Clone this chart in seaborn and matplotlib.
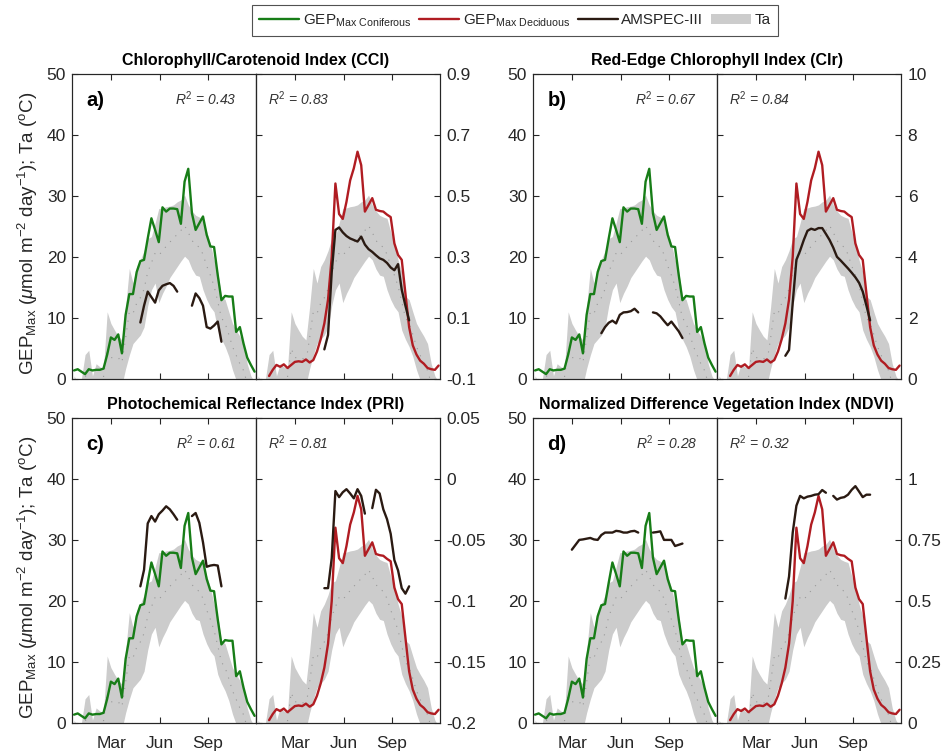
import numpy as np
import pandas as pd
import matplotlib
matplotlib.use("Agg")
import matplotlib.pyplot as plt
import seaborn as sns
from matplotlib.lines import Line2D
from matplotlib.patches import Patch

# ---------------- data ----------------
weeks = list(range(1, 51))

gep_conifer = [1.4, 1.6, 1.2, 0.8, 1.6, 1.4, 1.5, 1.5, 1.7, 4.0,
               6.8, 6.4, 7.3, 4.2, 10.5, 13.9, 13.9, 17.5, 19.3, 19.5,
               23.0, 26.3, 24.4, 22.4, 28.1, 27.4, 27.9, 27.9, 27.8, 25.4,
               32.3, 34.4, 27.1, 24.4, 25.5, 26.6, 23.6, 21.7, 21.6, 17.0,
               12.9, 13.6, 13.5, 13.5, 7.7, 8.5, 5.8, 3.5, 2.3, 1.2]

gep_decid = [np.nan, np.nan, np.nan, 0.5, 1.5, 2.3, 2.0, 2.4, 1.8, 2.3,
             2.8, 2.9, 2.8, 3.2, 2.7, 3.1, 4.5, 6.5, 9.1, 13.0,
             20.0, 32.0, 27.0, 26.2, 29.0, 32.5, 34.5, 37.2, 35.0, 27.4,
             28.5, 29.6, 27.7, 27.5, 27.4, 26.9, 26.5, 22.2, 20.3, 19.5,
             14.0, 8.5, 5.5, 4.0, 3.0, 2.5, 1.8, 1.6, 1.5, 2.2]

ta_upper = [0.5, -0.5, 0.0, 4.0, 4.7, 0.5, 2.5, 2.0, 1.7, 11.0,
            9.1, 8.0, 7.0, 6.4, 11.8, 18.1, 15.7, 18.4, 19.5, 21.0,
            23.0, 23.3, 25.5, 27.9, 28.0, 28.2, 28.3, 28.5, 29.0, 29.3,
            30.1, 28.5, 27.5, 26.8, 26.5, 26.3, 24.1, 22.2, 19.5, 17.5,
            13.5, 13.0, 11.0, 9.1, 8.0, 7.0, 5.8, 2.5, 0.5, -0.5]

ta_lower = [-5, -6, -4, -3, -4, -5, -2, -3, -1, -1,
            -2, -1, 0, -1, 1.7, 3.9, 5.8, 6.5, 7.2, 8.5,
            12.0, 14.6, 15.7, 12.5, 14.0, 15.2, 16.6, 17.5, 18.4, 19.3,
            20.1, 19.5, 18.0, 17.0, 16.8, 14.6, 13.0, 11.8, 11.0, 8.0,
            6.5, 5.3, 3.7, 1.5, -0.2, -2, -3, -4, -5, -6]

ta_mean = [-2.2, -3.2, -2.0, 0.5, 0.3, -2.2, 0.2, -0.5, 0.3, 5.0,
           3.5, 3.5, 3.5, 2.7, 6.7, 11.0, 10.7, 12.4, 13.3, 14.7,
           17.5, 19.0, 20.6, 20.2, 21.0, 21.7, 22.4, 23.0, 23.7, 24.3,
           25.1, 24.0, 22.7, 21.9, 21.6, 20.4, 18.5, 17.0, 15.2, 12.7,
           10.0, 9.1, 7.3, 5.3, 3.9, 2.5, 1.4, -0.7, -2.2, -3.2]

# AMSPEC-III index series (weeks, values)
cci_con_weeks = list(range(19, 30)) + list(range(33, 42))
cci_con_vals = [0.085, 0.14, 0.186, 0.168, 0.15, 0.19, 0.205, 0.21, 0.214, 0.205, 0.186,
                0.14, 0.18, 0.165, 0.14, 0.07, 0.065, 0.075, 0.088, 0.022]
cci_dec_weeks = list(range(19, 43))
cci_dec_vals = [-0.003, 0.044, 0.25, 0.388, 0.396, 0.38, 0.368, 0.36, 0.355, 0.35,
                0.366, 0.34, 0.325, 0.316, 0.305, 0.295, 0.29, 0.28, 0.265, 0.256,
                0.276, 0.192, 0.14, 0.092]

cir_con_weeks = list(range(19, 30)) + list(range(33, 42))
cir_con_vals = [1.5, 1.7, 1.84, 1.91, 1.82, 2.1, 2.18, 2.19, 2.22, 2.3, 2.18,
                2.18, 2.15, 2.05, 1.9, 1.76, 1.88, 1.72, 1.56, 1.34]
cir_dec_weeks = list(range(19, 43))
cir_dec_vals = [0.76, 0.95, 2.5, 3.9, 4.2, 4.55, 4.85, 4.92, 4.88, 4.94,
                4.94, 4.75, 4.55, 4.3, 4.0, 3.88, 3.75, 3.62, 3.48, 3.33,
                3.15, 2.86, 2.4, 1.92]

pri_con_weeks = list(range(19, 30)) + list(range(33, 42))
pri_con_vals = [-0.088, -0.0745, -0.0365, -0.0305, -0.035, -0.029, -0.026, -0.0225, -0.025, -0.029, -0.0335,
                -0.0305, -0.028, -0.036, -0.052, -0.072, -0.071, -0.0705, -0.071, -0.088]
pri_dec_weeks = list(range(19, 31)) + list(range(32, 43))
pri_dec_vals = [-0.0895, -0.0895, -0.065, -0.01, -0.015, -0.011, -0.0085, -0.012, -0.016, -0.0085, -0.014, -0.0285,
                -0.024, -0.009, -0.012, -0.025, -0.033, -0.045, -0.0665, -0.075, -0.0895, -0.094, -0.088]

ndvi_con_weeks = list(range(11, 30)) + list(range(33, 42))
ndvi_con_vals = [0.71, 0.73, 0.75, 0.752, 0.755, 0.758, 0.752, 0.75, 0.77, 0.78,
                 0.78, 0.78, 0.787, 0.785, 0.78, 0.78, 0.785, 0.787, 0.78,
                 0.78, 0.782, 0.785, 0.75, 0.75, 0.75, 0.725, 0.73, 0.735]
ndvi_dec_weeks = list(range(19, 31)) + list(range(32, 43))
ndvi_dec_vals = [0.51, 0.6, 0.78, 0.89, 0.93, 0.92, 0.927, 0.93, 0.935, 0.937, 0.954, 0.943,
                 0.93, 0.915, 0.922, 0.925, 0.935, 0.955, 0.97, 0.948, 0.925, 0.935, 0.935]

month_ticks = [11.1, 24.2, 37.3]
month_labels = ["Mar", "Jun", "Sep"]

panels = [
    dict(label="a)", title="Chlorophyll/Carotenoid Index (CCI)", r2=("0.43", "0.83"),
         rlim=(-0.1, 0.9), rticks=[-0.1, 0.1, 0.3, 0.5, 0.7, 0.9],
         rlabels=["-0.1", "0.1", "0.3", "0.5", "0.7", "0.9"],
         con=(cci_con_weeks, cci_con_vals), dec=(cci_dec_weeks, cci_dec_vals),
         x0=71.7, ytop=73.5, ylab=True, xlab=False),
    dict(label="b)", title="Red-Edge Chlorophyll Index (CIr)", r2=("0.67", "0.84"),
         rlim=(0, 10), rticks=[0, 2, 4, 6, 8, 10],
         rlabels=["0", "2", "4", "6", "8", "10"],
         con=(cir_con_weeks, cir_con_vals), dec=(cir_dec_weeks, cir_dec_vals),
         x0=532.7, ytop=73.5, ylab=False, xlab=False),
    dict(label="c)", title="Photochemical Reflectance Index (PRI)", r2=("0.61", "0.81"),
         rlim=(-0.2, 0.05), rticks=[-0.2, -0.15, -0.1, -0.05, 0, 0.05],
         rlabels=["-0.2", "-0.15", "-0.1", "-0.05", "0", "0.05"],
         con=(pri_con_weeks, pri_con_vals), dec=(pri_dec_weeks, pri_dec_vals),
         x0=71.7, ytop=417.7, ylab=True, xlab=True),
    dict(label="d)", title="Normalized Difference Vegetation Index (NDVI)", r2=("0.28", "0.32"),
         rlim=(0, 1.25), rticks=[0, 0.25, 0.5, 0.75, 1],
         rlabels=["0", "0.25", "0.5", "0.75", "1"],
         con=(ndvi_con_weeks, ndvi_con_vals), dec=(ndvi_dec_weeks, ndvi_dec_vals),
         x0=532.7, ytop=417.7, ylab=False, xlab=True),
]

# ---------------- style ----------------
sns.set_theme(style="ticks")
plt.rcParams['font.family'] = ['Liberation Sans', 'DejaVu Sans']
plt.rcParams['mathtext.fontset'] = 'custom'
plt.rcParams['mathtext.rm'] = 'Liberation Sans'
plt.rcParams['mathtext.it'] = 'Liberation Sans:italic'
plt.rcParams['mathtext.bf'] = 'Liberation Sans:bold'
plt.rcParams['xtick.direction'] = 'in'
plt.rcParams['ytick.direction'] = 'in'
plt.rcParams['xtick.major.size'] = 4
plt.rcParams['ytick.major.size'] = 4

C_CON = "#177d17"
C_DEC = "#b01c22"
C_AMS = "#2a1a12"
C_TA = "#cccccc"
C_AX = "#262626"
LW = 1.7
TICK_FS = 12.5

W, H = 946, 755
fig = plt.figure(figsize=(W / 100, H / 100), dpi=100)

base = pd.DataFrame({"week": weeks, "con": gep_conifer, "dec": gep_decid,
                     "lo": ta_lower, "hi": ta_upper, "mean": ta_mean})


def seg_frame(wk, vals):
    d = pd.DataFrame({"week": wk, "value": vals})
    d["seg"] = (d["week"].diff().fillna(1) > 1).cumsum()
    return d


def style_axis(ax):
    for s in ax.spines.values():
        s.set_color(C_AX)
        s.set_linewidth(0.8)
    ax.tick_params(colors=C_AX, labelcolor=C_AX, labelsize=TICK_FS, width=0.8)


aw, ah = 184 / W, 305.5 / H
xlim = (0.37, 50.3)

for p in panels:
    bottom = 1 - (p["ytop"] + 305.5) / H
    axL = fig.add_axes([p["x0"] / W, bottom, aw, ah])
    axR = fig.add_axes([(p["x0"] + 184) / W, bottom, aw, ah])

    for ax, key, col in ((axL, "con", C_CON), (axR, "dec", C_DEC)):
        ax.fill_between(base["week"], base["lo"], base["hi"], color=C_TA, lw=0, zorder=1)
        ax.plot(base["week"], base["mean"], color="#999999", lw=0.8,
                linestyle=(0, (1, 6)), zorder=2)
        sns.lineplot(data=base, x="week", y=key, color=col, lw=LW, ax=ax,
                     legend=False, zorder=3)
        ax.set_xlim(*xlim)
        ax.set_ylim(0, 50)
        ax.set_yticks([0, 10, 20, 30, 40, 50])
        ax.set_xticks(month_ticks)
        ax.set_xlabel("")
        ax.set_ylabel("")
        style_axis(ax)
        ax.tick_params(top=True, bottom=True)
        if p["xlab"]:
            ax.set_xticklabels(month_labels)
            ax.tick_params(axis="x", pad=9.5)
        else:
            ax.set_xticklabels([])

    axL.tick_params(axis="y", left=True, right=True, labelleft=True, pad=4)
    axR.tick_params(axis="y", left=True, right=False, labelleft=False)

    # index axes
    for ax, data, show in ((axL, p["con"], False), (axR, p["dec"], True)):
        t = ax.twinx()
        df = seg_frame(*data)
        sns.lineplot(data=df, x="week", y="value", units="seg", estimator=None,
                     color=C_AMS, lw=LW, ax=t, legend=False)
        t.set_ylim(*p["rlim"])
        t.set_xlim(*xlim)
        t.set_ylabel("")
        style_axis(t)
        if show:
            t.set_yticks(p["rticks"])
            t.set_yticklabels(p["rlabels"])
            t.tick_params(axis="y", right=True, labelright=True, pad=5)
        else:
            t.set_yticks([])
            t.tick_params(axis="y", right=False, labelright=False)

    axL.text(0.08, 0.913, p["label"], transform=axL.transAxes, fontsize=14.5,
             fontweight="bold", ha="left", va="center", color="black")
    axL.text(0.895, 0.917, r"$R^2$ = " + p["r2"][0], transform=axL.transAxes,
             fontsize=10, style="italic", ha="right", va="center", color="#333333")
    axR.text(0.068, 0.917, r"$R^2$ = " + p["r2"][1], transform=axR.transAxes,
             fontsize=10, style="italic", ha="left", va="center", color="#333333")

    fig.text((p["x0"] + 184) / W, 1 - (p["ytop"] - 12.7) / H, p["title"],
             ha="center", va="center", fontsize=11.5, fontweight="bold", color="black")

    if p["ylab"]:
        fig.text(28 / W, 1 - (p["ytop"] + 160) / H,
                 r"GEP$_{\rm Max}$ ($\mu$mol m$^{-2}$ day$^{-1}$); Ta ($^{\rm o}$C)",
                 rotation=90, ha="center", va="center", fontsize=13.5, color=C_AX)

handles = [Line2D([], [], color=C_CON, lw=LW),
           Line2D([], [], color=C_DEC, lw=LW),
           Line2D([], [], color=C_AMS, lw=LW),
           Patch(facecolor=C_TA, edgecolor="none")]
labels = [r"GEP$_{\rm Max\ Coniferous}$", r"GEP$_{\rm Max\ Deciduous}$", "AMSPEC-III", "Ta"]
leg = fig.legend(handles, labels, loc="center", bbox_to_anchor=(515 / W, 1 - 20.5 / H),
                 ncol=4, frameon=True, fancybox=False, fontsize=11,
                 handlelength=2.6, columnspacing=0.5, handletextpad=0.25,
                 borderpad=0.5)
leg.get_frame().set_edgecolor(C_AX)
leg.get_frame().set_linewidth(0.8)

fig.savefig("out.png", dpi=100)
